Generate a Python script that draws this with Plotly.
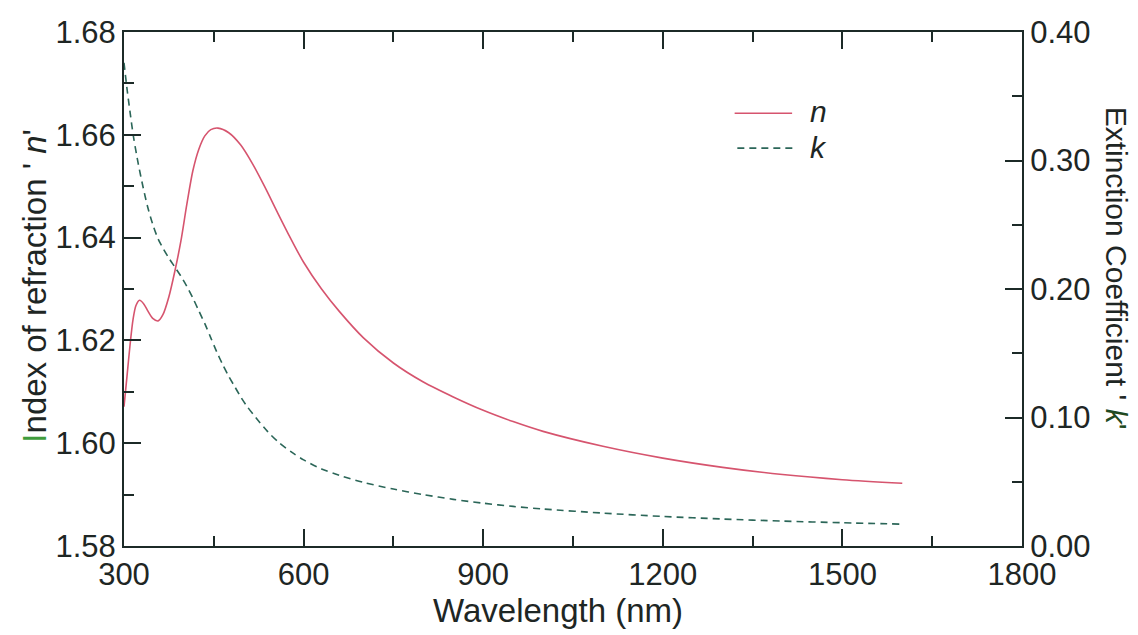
import plotly.graph_objects as go

# Refractive index n(λ)
wl_n = [300, 305, 310, 315, 320, 326, 333, 340, 348, 357, 365, 375, 385, 395,
        405, 415, 425, 435, 445, 457, 475, 495, 515, 535, 555, 575, 600, 630,
        660, 700, 750, 800, 850, 900, 950, 1000, 1100, 1200, 1300, 1400, 1500, 1600]
n_vals = [1.6071, 1.6130, 1.6190, 1.6240, 1.6268, 1.6278, 1.6271, 1.6257, 1.6243,
          1.6238, 1.6250, 1.6285, 1.6335, 1.6393, 1.6465, 1.6530, 1.6572, 1.6598,
          1.6610, 1.6613, 1.6604, 1.6580, 1.6543, 1.6499, 1.6452, 1.6406, 1.6352,
          1.6300, 1.6256, 1.6205, 1.6156, 1.6119, 1.6090, 1.6064, 1.6042, 1.6023,
          1.5994, 1.5971, 1.5953, 1.5939, 1.5929, 1.5922]

# Extinction coefficient k(λ)
wl_k = [300, 305, 310, 316, 324, 332, 340, 349, 357, 366, 375, 385, 395, 405, 415,
        425, 435, 445, 455, 465, 475, 485, 495, 505, 520, 540, 560, 580, 600, 630,
        660, 700, 750, 800, 850, 900, 950, 1000, 1100, 1200, 1300, 1400, 1500, 1600]
k_vals = [0.376, 0.356, 0.338, 0.318, 0.297, 0.279, 0.263, 0.249, 0.239, 0.231,
          0.224, 0.217, 0.210, 0.202, 0.193, 0.183, 0.173, 0.162, 0.151, 0.141,
          0.132, 0.124, 0.116, 0.109, 0.100, 0.089, 0.080, 0.073, 0.067, 0.060,
          0.055, 0.0495, 0.0443, 0.0400, 0.0363, 0.0333, 0.0308, 0.0288, 0.0256,
          0.0230, 0.0210, 0.0194, 0.0181, 0.0170]

x_ticks = [300, 600, 900, 1200, 1500, 1800]
n_ticks = [1.58, 1.60, 1.62, 1.64, 1.66, 1.68]
k_ticks = [0.00, 0.10, 0.20, 0.30, 0.40]

RED = "#d6546e"
TEAL = "#2b6658"
AXIS = "#1c2a27"
TEXT = "#1e2624"
FONT = "Liberation Sans, Arial, sans-serif"

fig = go.Figure()
fig.add_trace(go.Scatter(x=wl_n, y=n_vals, mode="lines", name="n",
                         line=dict(color=RED, width=1.6, shape="spline", smoothing=0.8),
                         showlegend=False))
fig.add_trace(go.Scatter(x=wl_k, y=k_vals, mode="lines", name="k", yaxis="y2",
                         line=dict(color=TEAL, width=1.6, dash="7px,5px",
                                   shape="spline", smoothing=0.8),
                         showlegend=False))

tickfont = dict(family=FONT, size=31, color=TEXT)

fig.update_layout(
    width=1138, height=635,
    margin=dict(l=124, r=116, t=32, b=89),
    paper_bgcolor="white", plot_bgcolor="white",
    font=dict(family=FONT, color=TEXT),
    xaxis=dict(range=[300, 1800], tickvals=x_ticks, ticks="inside", ticklen=17,
               tickwidth=1.6, tickcolor=AXIS, showline=True, linecolor=AXIS,
               linewidth=2, mirror="ticks", showgrid=False, zeroline=False,
               tickfont=tickfont,
               minor=dict(dtick=150, ticks="inside", ticklen=10, tickwidth=1.6,
                          tickcolor=AXIS, showgrid=False)),
    yaxis=dict(range=[1.58, 1.68], tickvals=n_ticks, tickformat=".2f",
               ticks="inside", ticklen=17, tickwidth=1.6, tickcolor=AXIS,
               showline=True, linecolor=AXIS, linewidth=2, showgrid=False,
               zeroline=False, tickfont=tickfont,
               minor=dict(dtick=0.01, ticks="inside", ticklen=10, tickwidth=1.6,
                          tickcolor=AXIS, showgrid=False)),
    yaxis2=dict(range=[0, 0.40], tickvals=k_ticks, tickformat=".2f",
                overlaying="y", side="right", ticks="inside", ticklen=17,
                tickwidth=1.6, tickcolor=AXIS, showline=True, linecolor=AXIS,
                linewidth=2, showgrid=False, zeroline=False, tickfont=tickfont,
                minor=dict(dtick=0.05, ticks="inside", ticklen=10, tickwidth=1.6,
                           tickcolor=AXIS, showgrid=False)),
)

# Axis titles
fig.add_annotation(text="Wavelength (nm)", xref="paper", yref="paper",
                   x=0.483, y=-0.125, xanchor="center", yanchor="middle",
                   showarrow=False, font=dict(family=FONT, size=33, color=TEXT))
fig.add_annotation(text="<span style='color:#3f9c3c'>I</span>ndex of refraction ' <i>n</i>'",
                   xref="paper", yref="paper", x=-0.100, y=0.505,
                   xanchor="center", yanchor="middle", textangle=-90,
                   showarrow=False, font=dict(family=FONT, size=33, color=TEXT))
fig.add_annotation(text="Extinction Coefficient ' <span style='color:#1f4a22'><i>k</i>'</span>",
                   xref="paper", yref="paper", x=1.105, y=0.541,
                   xanchor="center", yanchor="middle", textangle=90,
                   showarrow=False, font=dict(family=FONT, size=30, color=TEXT))

# Legend
fig.add_shape(type="line", xref="paper", yref="paper", x0=0.680, x1=0.744,
              y0=0.842, y1=0.842, line=dict(color=RED, width=1.6))
fig.add_shape(type="line", xref="paper", yref="paper", x0=0.683, x1=0.747,
              y0=0.774, y1=0.774, line=dict(color=TEAL, width=1.6, dash="7px,5px"))
fig.add_annotation(text="<i>n</i>", xref="paper", yref="paper", x=0.762, y=0.846,
                   xanchor="left", yanchor="middle", showarrow=False,
                   font=dict(family=FONT, size=30, color=TEXT))
fig.add_annotation(text="<i>k</i>", xref="paper", yref="paper", x=0.762, y=0.776,
                   xanchor="left", yanchor="middle", showarrow=False,
                   font=dict(family=FONT, size=30, color=TEXT))

fig.write_html("out.html")
